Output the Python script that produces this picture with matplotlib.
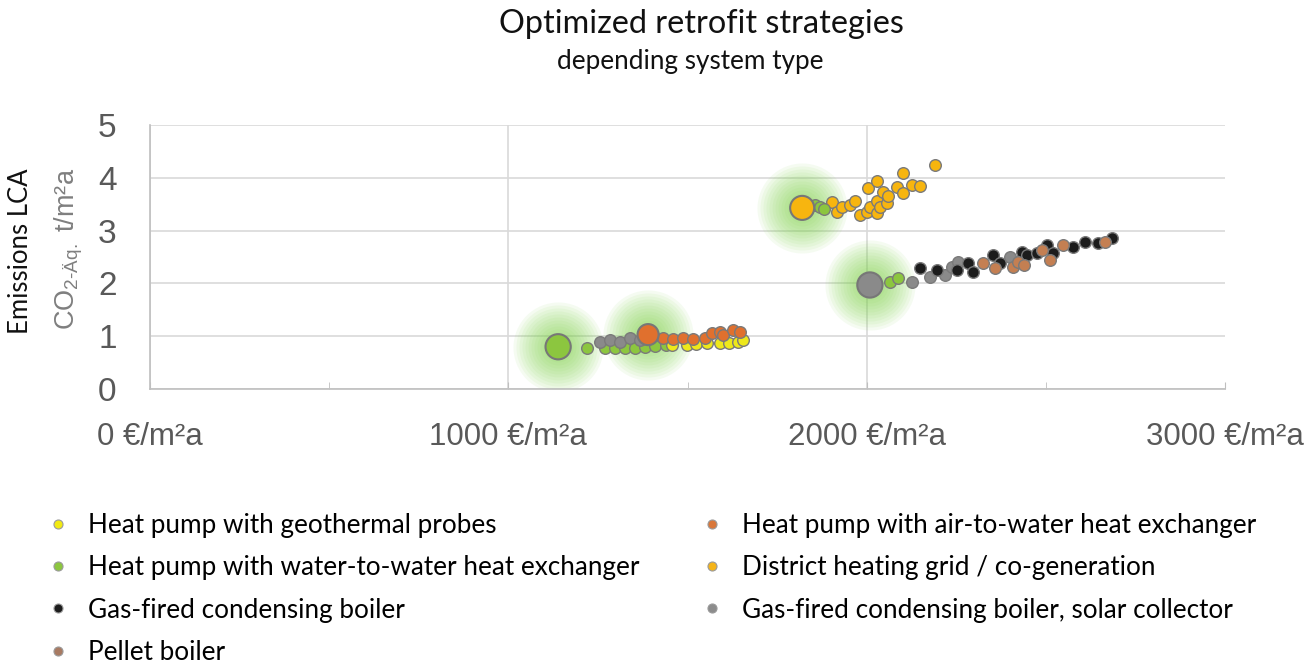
import matplotlib
matplotlib.use('Agg')
import matplotlib.pyplot as plt
from matplotlib import font_manager
from matplotlib.lines import Line2D

# --- fonts: Arial-like for axes, Calibri-like for titles / legend
def pick(names):
    for n in names:
        try:
            font_manager.findfont(n, fallback_to_default=False)
            return n
        except Exception:
            pass
    return 'DejaVu Sans'

axis_font = pick(['Liberation Sans Narrow', 'Liberation Sans'])
text_font = pick(['Lato', 'Open Sans', 'DejaVu Sans'])

plt.rcParams['mathtext.fontset'] = 'custom'
plt.rcParams['mathtext.rm'] = axis_font

# --- data (cost €/m²a, emissions t CO2-eq/m²a)
geo_x = [1457, 1499, 1525, 1555, 1591, 1615, 1641, 1655]
geo_y = [0.83, 0.83, 0.86, 0.87, 0.87, 0.88, 0.89, 0.92]

water_x = [1220, 1270, 1298, 1326, 1354, 1382, 1410, 1440, 1856, 1870, 1880, 2065, 2088]
water_y = [0.78, 0.78, 0.77, 0.78, 0.77, 0.79, 0.82, 0.84, 3.48, 3.45, 3.40, 2.03, 2.10]

gas_x = [2149, 2196, 2252, 2283, 2297, 2353, 2372, 2434, 2448, 2476, 2504, 2521,
         2576, 2609, 2646, 2684]
gas_y = [2.29, 2.25, 2.25, 2.38, 2.22, 2.54, 2.38, 2.59, 2.54, 2.58, 2.73, 2.58,
         2.69, 2.78, 2.76, 2.86]

pellet_x = [2325, 2358, 2409, 2422, 2440, 2490, 2512, 2548, 2665]
pellet_y = [2.38, 2.29, 2.31, 2.41, 2.35, 2.63, 2.44, 2.73, 2.78]

air_x = [1405, 1432, 1460, 1488, 1516, 1549, 1569, 1591, 1599, 1627, 1647]
air_y = [1.02, 0.97, 0.95, 0.97, 0.95, 0.96, 1.06, 1.08, 1.02, 1.12, 1.08]

district_x = [1903, 1917, 1931, 1954, 1968, 1981, 2001, 2004, 2009, 2029, 2029, 2029,
              2037, 2046, 2057, 2060, 2085, 2101, 2102, 2127, 2149, 2191]
district_y = [3.54, 3.35, 3.45, 3.48, 3.56, 3.30, 3.35, 3.81, 3.45, 3.93, 3.56, 3.33,
              3.45, 3.73, 3.52, 3.66, 3.83, 4.10, 3.72, 3.86, 3.84, 4.24]

solar_x = [1256, 1284, 1312, 1340, 1368, 2127, 2177, 2219, 2238, 2255, 2400]
solar_y = [0.89, 0.93, 0.89, 0.97, 0.93, 2.03, 2.12, 2.16, 2.31, 2.41, 2.50]

# optimum per system (highlighted, large points)
best_x = [1139, 1390, 1820, 2009]
best_y = [0.80, 1.03, 3.43, 1.97]
best_c = ['#8cc63f', '#e0702e', '#f7b50f', '#8a8a8a']
best_s = [330, 230, 300, 330]

labels = ['Heat pump with geothermal probes',
          'Heat pump with water-to-water heat exchanger',
          'Gas-fired condensing boiler',
          'Pellet boiler',
          'Heat pump with air-to-water heat exchanger',
          'District heating grid / co-generation',
          'Gas-fired condensing boiler, solar collector']
colors = ['#f2ea12', '#8cc63f', '#1c1c1c', '#a87a62', '#d9773a', '#f5b418', '#8c8c8c']
series = [(geo_x, geo_y), (water_x, water_y), (gas_x, gas_y), (pellet_x, pellet_y),
          (air_x, air_y), (district_x, district_y), (solar_x, solar_y)]
point_colors = ['#eee81a', '#8cc63f', '#1c1c1c', '#c47f52', '#e0702e', '#f7b50f', '#8a8a8a']
draw_order = [5, 1, 6, 0, 4, 2, 3]

fig = plt.figure(figsize=(13.14, 6.64), dpi=100)
ax = fig.add_axes([150/1314, 1-389/664, 1075/1314, 264/664])

# green glow behind the optimum points
for gx, gy in zip(best_x, best_y):
    for k in range(14):
        ax.scatter([gx], [gy], s=4200*(1-k/15)**2, color='#7fd34a', alpha=0.075,
                   linewidths=0, zorder=1)

for i in draw_order:
    xs, ys = series[i]
    ax.scatter(xs, ys, s=70, color=point_colors[i], edgecolors='#7a7a7a',
               linewidths=1.0, zorder=3)

ax.scatter(best_x, best_y, s=best_s, c=best_c, edgecolors='#777777', linewidths=1.5, zorder=4)

ax.set_xlim(0, 3000)
ax.set_ylim(0, 5)
ax.set_xticks([0, 1000, 2000, 3000])
ax.set_xticks([500, 1500, 2500], minor=True)
ax.set_xticklabels(['0 €/m²a', '1000 €/m²a', '2000 €/m²a', '3000 €/m²a'])
ax.set_yticks([0, 1, 2, 3, 4, 5])
ax.tick_params(axis='x', which='both', direction='in', length=5, color='#bfbfbf',
               pad=24, labelsize=22.5, labelcolor='#595959')
ax.tick_params(axis='y', length=0, pad=24, labelsize=24, labelcolor='#595959')
for lab in ax.get_xticklabels() + ax.get_yticklabels():
    lab.set_fontfamily(axis_font)

ax.grid(True, axis='both', color='#d9d9d9', linewidth=1.2)
ax.xaxis.get_gridlines()[-1].set_visible(False)
ax.set_axisbelow(True)
for side in ['top', 'right']:
    ax.spines[side].set_visible(False)
for side in ['left', 'bottom']:
    ax.spines[side].set_color('#bfbfbf')
    ax.spines[side].set_linewidth(1.2)

fig.text(701/1314, 1-24/664, 'Optimized retrofit strategies', ha='center', va='center',
         fontsize=23.3, family=text_font, color='#111111')
fig.text(690/1314, 1-62/664, 'depending system type', ha='center', va='center',
         fontsize=18.8, family=text_font, color='#111111')
fig.text(21/1314, 1-251/664, 'Emissions LCA', rotation=90, ha='center', va='center',
         fontsize=18.5, family=text_font, color='#111111')
fig.text(69/1314, 1-249/664, r'CO$_{\mathrm{2\text{-}Äq.}}$ t/m²a', rotation=90, ha='center',
         va='center', fontsize=19.5, family=axis_font, color='#7f7f7f')

handles = [Line2D([], [], linestyle='none', marker='o', markersize=6.5,
                  markerfacecolor=c, markeredgecolor='#9a9a9a', markeredgewidth=0.8)
           for c in colors]
leg_kw = dict(frameon=False, prop={'family': text_font, 'size': 18.8},
              handletextpad=0.64, labelspacing=0.66, handlelength=1.0, borderpad=0)
fig.legend(handles[:4], labels[:4], loc='upper left',
           bbox_to_anchor=(32/1314, 1-500/664), **leg_kw)
fig.legend(handles[4:], labels[4:], loc='upper left',
           bbox_to_anchor=(686/1314, 1-500/664), **leg_kw)

fig.savefig('out.png', dpi=100)
